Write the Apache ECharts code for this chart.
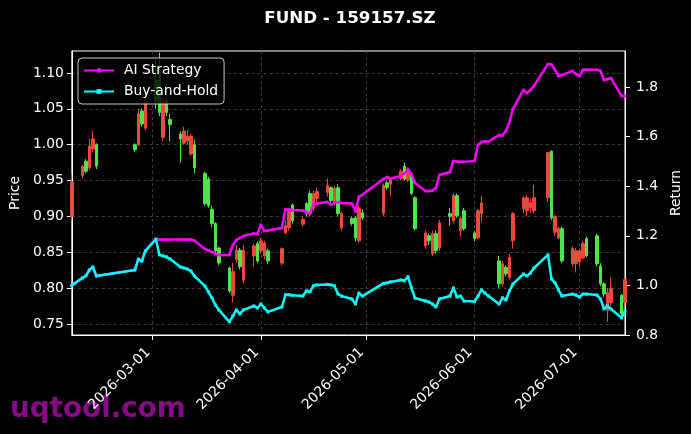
<!DOCTYPE html>
<html><head><meta charset="utf-8">
<script src="https://cdn.jsdelivr.net/npm/echarts@6/dist/echarts.min.js"></script>
<style>html,body{margin:0;padding:0;background:#000;}#c{width:691px;height:434px;}</style>
</head><body><div id="c"></div><script>
const dates = ['2026-02-06','2026-02-09','2026-02-10','2026-02-11','2026-02-12','2026-02-13','2026-02-24','2026-02-25','2026-02-26','2026-02-27',
'2026-03-02','2026-03-03','2026-03-04','2026-03-05','2026-03-06','2026-03-09','2026-03-10','2026-03-11','2026-03-12','2026-03-13',
'2026-03-16','2026-03-17','2026-03-18','2026-03-19','2026-03-20','2026-03-23','2026-03-24','2026-03-25','2026-03-26','2026-03-27',
'2026-03-30','2026-03-31','2026-04-01','2026-04-02','2026-04-03','2026-04-07','2026-04-08','2026-04-09','2026-04-10','2026-04-13',
'2026-04-14','2026-04-15','2026-04-16','2026-04-17','2026-04-20','2026-04-21','2026-04-22','2026-04-23','2026-04-24','2026-04-27',
'2026-04-28','2026-04-29','2026-04-30','2026-05-06','2026-05-07','2026-05-08','2026-05-11','2026-05-12','2026-05-13','2026-05-14',
'2026-05-15','2026-05-18','2026-05-19','2026-05-20','2026-05-21','2026-05-22','2026-05-25','2026-05-26','2026-05-27','2026-05-28',
'2026-05-29','2026-06-01','2026-06-02','2026-06-03','2026-06-04','2026-06-05','2026-06-08','2026-06-09','2026-06-10','2026-06-11',
'2026-06-12','2026-06-15','2026-06-16','2026-06-17','2026-06-18','2026-06-22','2026-06-23','2026-06-24','2026-06-25','2026-06-26',
'2026-06-29','2026-06-30','2026-07-01','2026-07-02','2026-07-03','2026-07-06','2026-07-07','2026-07-08','2026-07-09','2026-07-10',
'2026-07-13','2026-07-14'];

const openP = [0.900,0.957,0.977,0.968,0.994,1.000,1.000,1.000,1.047,1.023,
1.090,1.100,1.010,1.062,1.035,1.015,1.002,1.005,0.987,1.000,
0.960,0.952,0.910,0.890,0.856,0.828,0.790,0.840,0.853,0.811,
0.845,0.862,0.852,0.845,0.852,0.835,0.877,0.884,0.916,0.889,
0.918,0.932,0.912,0.925,0.933,0.940,0.920,0.940,0.884,0.897,
0.898,0.866,0.905,0.904,0.947,0.945,0.953,0.970,0.951,0.960,
0.926,0.859,0.873,0.848,0.876,0.856,0.904,0.894,0.929,0.880,
0.908,0.877,0.870,0.904,null,null,0.838,0.806,0.829,0.815,
0.866,0.911,0.908,0.912,0.908,0.926,0.991,0.878,0.870,0.883,
0.834,0.834,0.837,0.842,0.869,0.873,0.831,0.806,0.769,0.780,
0.790,0.780];
const closeP = [0.948,0.970,0.963,0.998,1.008,0.970,0.993,1.043,1.029,1.061,
1.060,1.045,1.065,1.045,1.028,1.008,1.019,1.012,1.012,0.968,
0.918,0.915,0.890,0.852,0.835,0.796,0.823,0.853,0.830,0.853,
0.859,0.838,0.866,0.863,0.838,0.855,0.887,0.908,0.894,0.896,
0.904,0.904,0.932,0.935,0.943,0.922,0.939,0.904,0.904,0.890,
0.870,0.912,0.898,0.943,0.940,0.952,0.963,0.952,0.965,0.932,
0.883,0.877,0.866,0.876,0.852,0.891,0.900,0.929,0.901,0.897,
0.883,0.869,0.908,0.919,null,null,0.806,0.834,0.820,0.843,
0.904,0.926,0.926,0.919,0.926,0.989,0.898,0.900,0.883,0.838,
0.855,0.852,0.852,0.862,0.845,0.834,0.806,0.792,0.794,0.800,
0.764,0.812];
const lowP = [0.895,0.953,0.960,0.965,0.990,0.966,0.990,0.998,1.025,1.020,
1.050,1.040,1.005,1.040,1.005,0.975,1.000,1.000,0.985,0.960,
0.915,0.912,0.885,0.849,0.832,0.793,0.780,0.836,0.826,0.807,
0.830,0.835,0.848,0.840,0.834,0.832,0.875,0.880,0.890,0.886,
0.900,0.900,0.908,0.920,0.928,0.918,0.915,0.900,0.880,0.887,
0.865,0.863,0.895,0.900,0.937,0.928,0.950,0.950,0.948,0.930,
0.880,0.855,0.860,0.845,0.848,0.852,0.887,0.890,0.898,0.872,
0.880,0.865,0.868,0.892,null,null,0.800,0.802,0.816,0.812,
0.855,0.905,0.900,0.905,0.904,0.920,0.895,0.873,0.868,0.835,
0.830,0.822,0.830,0.840,0.843,0.830,0.803,0.788,0.753,0.775,
0.760,0.775];
const highP = [0.960,0.972,0.980,1.008,1.019,1.002,1.002,1.050,1.050,1.075,
1.120,1.128,1.070,1.085,1.043,1.019,1.025,1.020,1.015,1.007,
0.962,0.955,0.915,0.892,0.858,0.830,0.835,0.860,0.856,0.860,
0.862,0.865,0.870,0.866,0.855,0.857,0.895,0.912,0.918,0.900,
0.920,0.936,0.936,0.940,0.953,0.942,0.943,0.945,0.907,0.900,
0.900,0.915,0.910,0.946,0.950,0.955,0.966,0.975,0.968,0.962,
0.928,0.880,0.876,0.880,0.880,0.895,0.912,0.932,0.932,0.900,
0.912,0.880,0.910,0.928,null,null,0.845,0.838,0.832,0.848,
0.906,0.928,0.930,0.925,0.944,0.990,0.992,0.902,0.886,0.886,
0.858,0.856,0.855,0.866,0.872,0.876,0.835,0.808,0.800,0.815,
0.792,0.815];

const aiStrategy = [1.000,1.030,1.038,1.062,1.074,1.038,1.062,1.106,1.098,1.139,
1.185,1.185,1.185,1.185,1.185,1.185,1.185,1.185,1.185,1.181,
1.147,1.141,1.135,1.127,1.123,1.123,1.163,1.183,1.191,1.199,
1.209,1.207,1.244,1.219,1.221,1.231,1.306,1.306,1.304,1.302,
1.296,1.288,1.328,1.330,1.336,1.326,1.332,1.336,1.332,1.330,
1.298,1.357,1.365,1.429,1.437,1.431,1.441,1.451,1.467,1.449,
1.413,1.381,1.381,1.383,1.393,1.445,1.457,1.502,1.500,1.498,
1.498,1.502,1.566,1.578,1.580,1.580,1.606,1.604,1.623,1.659,
1.711,1.788,1.776,1.788,1.804,1.893,1.891,1.869,1.844,1.848,
1.865,1.852,1.844,1.869,1.869,1.869,1.865,1.828,1.832,1.836,
1.764,1.764];
const buyHold = [1.000,1.030,1.038,1.062,1.074,1.038,1.062,1.106,1.098,1.139,
1.187,1.123,1.119,1.115,1.107,1.074,1.070,1.066,1.058,1.038,
0.998,0.974,0.950,0.921,0.901,0.853,0.877,0.901,0.885,0.901,
0.917,0.909,0.925,0.909,0.893,0.913,0.962,0.962,0.960,0.957,
0.978,0.974,0.998,1.002,1.004,1.002,0.998,0.966,0.957,0.945,
0.925,0.969,0.957,1.008,1.010,1.014,1.022,1.019,1.035,0.990,
0.949,0.937,0.933,0.925,0.913,0.945,0.957,0.990,0.953,0.957,
0.937,0.935,0.957,0.982,0.969,0.957,0.925,0.950,0.941,0.978,
1.006,1.046,1.038,1.050,1.070,1.123,1.026,1.010,0.982,0.957,
0.965,0.961,0.953,0.965,0.965,0.961,0.945,0.905,0.917,0.905,
0.869,0.897];

const priceTicks = [0.75,0.80,0.85,0.90,0.95,1.00,1.05,1.10];
const returnTicks = [0.8,1.0,1.2,1.4,1.6,1.8];
const dateTicks = ['2026-03-01','2026-04-01','2026-05-01','2026-06-01','2026-07-01'];
const dateRange = ['2026-02-06','2026-07-14'];

const FONT = 'DejaVu Sans';
function ts(s) { const p = s.split('-'); return Date.UTC(+p[0], +p[1] - 1, +p[2]); }
function fmtDate(v) {
  const d = new Date(v);
  const p = n => (n < 10 ? '0' : '') + n;
  return d.getUTCFullYear() + '-' + p(d.getUTCMonth() + 1) + '-' + p(d.getUTCDate());
}
const candleData = [];
dates.forEach((d, i) => {
  if (openP[i] != null) candleData.push([ts(d), openP[i], closeP[i], lowP[i], highP[i]]);
});
const aiData = dates.map((d, i) => [ts(d), aiStrategy[i]]);
const bhData = dates.map((d, i) => [ts(d), buyHold[i]]);
const dateTickVals = dateTicks.map(ts);

const chart = echarts.init(document.getElementById('c'), null, {renderer: 'canvas'});
chart.setOption({
  backgroundColor: '#000',
  animation: false,
  textStyle: {fontFamily: FONT},
  title: {
    text: 'FUND - 159157.SZ', left: 345, top: 5, textAlign: 'center',
    textStyle: {color: '#fff', fontFamily: FONT, fontWeight: 'bold', fontSize: 16.7}
  },
  legend: {
    data: ['AI Strategy', 'Buy-and-Hold'],
    orient: 'vertical', left: 78, top: 58, z: 10,
    backgroundColor: 'rgba(0,0,0,0.8)', borderColor: 'rgba(220,220,220,0.9)', borderWidth: 1, borderRadius: 4,
    padding: [5, 6, 5, 5], itemWidth: 30, itemHeight: 6, itemGap: 6,
    textStyle: {color: '#fff', fontFamily: FONT, fontSize: 13.9, lineHeight: 15, padding: [0, 0, 0, 5]}
  },
  grid: {left: 71, right: 62, top: 51, bottom: 99, show: true, borderColor: '#fff', borderWidth: 1, backgroundColor: 'transparent'},
  xAxis: {
    type: 'value', min: ts(dateRange[0]), max: ts(dateRange[1]),
    axisLine: {show: true, onZero: false, lineStyle: {color: '#fff', width: 1}},
    axisTick: {show: true, customValues: dateTickVals, length: 5, lineStyle: {color: '#fff'}},
    axisLabel: {customValues: dateTickVals, rotate: 45, color: '#fff', fontFamily: FONT, fontSize: 13.9, margin: 11, padding: [0, 6, 0, 0], formatter: v => fmtDate(v)},
    splitLine: {show: true, lineStyle: {color: '#555', type: [3, 3], width: 0.7}}
  },
  yAxis: [{
    type: 'value', position: 'left', min: 0.7347, max: 1.1306,
    name: 'Price', nameLocation: 'middle', nameRotate: 90, nameGap: 45,
    nameTextStyle: {color: '#fff', fontFamily: FONT, fontSize: 13.9},
    axisLine: {show: true, onZero: false, lineStyle: {color: '#fff'}},
    axisTick: {show: true, customValues: priceTicks, length: 5, lineStyle: {color: '#fff'}},
    axisLabel: {customValues: priceTicks, color: '#fff', fontFamily: FONT, fontSize: 13.9, margin: 8, formatter: v => v.toFixed(2)},
    splitLine: {show: true, lineStyle: {color: '#555', type: [3, 3], width: 0.7}}
  }, {
    type: 'value', position: 'right', min: 0.8, max: 1.945,
    name: 'Return', nameLocation: 'middle', nameRotate: 90, nameGap: 35,
    nameTextStyle: {color: '#fff', fontFamily: FONT, fontSize: 13.9},
    axisLine: {show: true, onZero: false, lineStyle: {color: '#fff'}},
    axisTick: {show: true, customValues: returnTicks, length: 5, lineStyle: {color: '#fff'}},
    axisLabel: {customValues: returnTicks, color: '#fff', fontFamily: FONT, fontSize: 13.9, margin: 11, formatter: v => v.toFixed(1)},
    splitLine: {show: false}
  }],
  series: [{
    name: 'Price', type: 'candlestick', xAxisIndex: 0, yAxisIndex: 0, data: candleData,
    barWidth: 3, z: 2, clip: true,
    itemStyle: {color: '#e84a3c', color0: '#4ee44a', borderColor: '#e84a3c', borderColor0: '#4ee44a', borderWidth: 1}
  }, {
    name: 'AI Strategy', type: 'line', xAxisIndex: 0, yAxisIndex: 1, data: aiData, z: 4,
    color: '#ff00ff', symbol: 'circle', symbolSize: 3, showSymbol: true,
    lineStyle: {color: '#ff00ff', width: 2.5}, itemStyle: {color: '#ff00ff'}
  }, {
    name: 'Buy-and-Hold', type: 'line', xAxisIndex: 0, yAxisIndex: 1, data: bhData, z: 5,
    color: '#00ffff', symbol: 'rect', symbolSize: 3, showSymbol: true,
    lineStyle: {color: '#00ffff', width: 2.5}, itemStyle: {color: '#00ffff'}
  }],
  graphic: [{
    type: 'text', left: 10, top: 396,
    style: {text: 'uqtool.com', fill: '#870a87', font: 'bold 27.8px "DejaVu Sans"'}
  }]
});
</script></body></html>
